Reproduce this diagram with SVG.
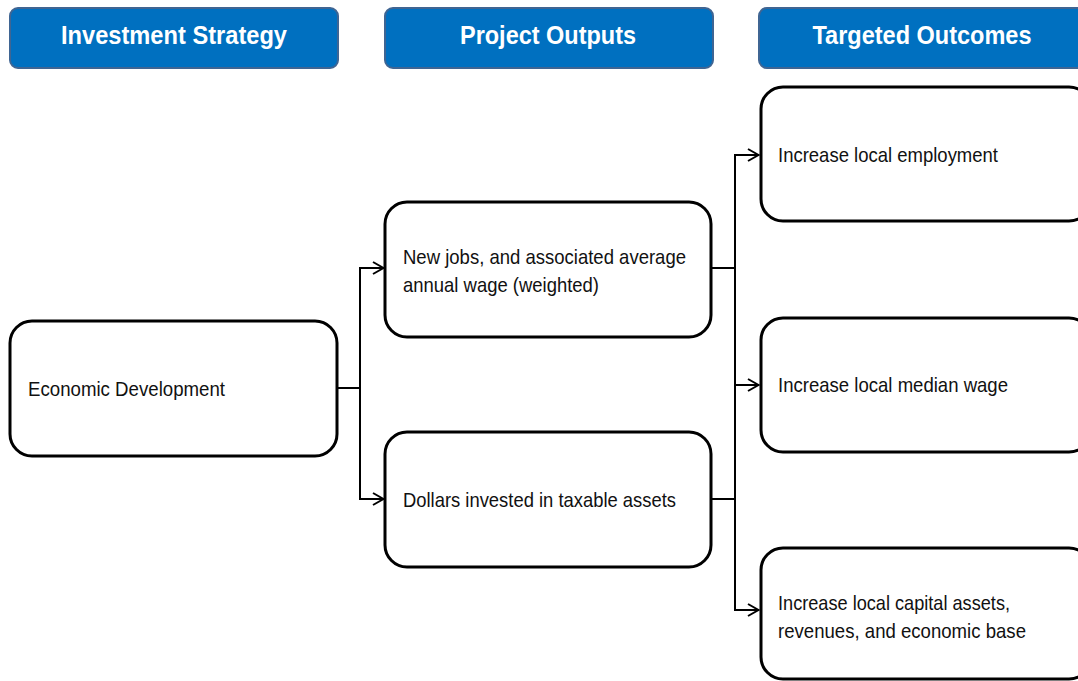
<svg xmlns="http://www.w3.org/2000/svg" width="1078" height="681" viewBox="0 0 1078 681">
<defs>
<style>
.hdr{fill:#0070C0;stroke:#3F6593;stroke-width:2}
.hdrt{font-family:"Liberation Sans Narrow","Liberation Sans",Arial,sans-serif;font-weight:bold;font-size:25px;fill:#fff;text-anchor:middle}
.box{fill:#fff;stroke:#000;stroke-width:3}
.t{font-family:"Liberation Sans Narrow","Liberation Sans",Arial,sans-serif;font-size:21px;fill:#111}
.c{fill:none;stroke:#000;stroke-width:2}
</style>
<marker id="arr" viewBox="0 0 13 14" refX="12" refY="7" markerWidth="13" markerHeight="14" markerUnits="userSpaceOnUse" orient="auto">
<path d="M1,1 L11.5,7 L1,13" fill="none" stroke="#000" stroke-width="2"/>
</marker>
</defs>
<rect width="1078" height="681" fill="#fff"/>
<g id="header-investment-strategy">
<rect class="hdr" x="10" y="8" width="328" height="60" rx="8"/>
<text class="hdrt" x="174" y="44" textLength="226" lengthAdjust="spacingAndGlyphs">Investment Strategy</text>
</g>
<g id="header-project-outputs">
<rect class="hdr" x="385" y="8" width="328" height="60" rx="8"/>
<text class="hdrt" x="548" y="44" textLength="176" lengthAdjust="spacingAndGlyphs">Project Outputs</text>
</g>
<g id="header-targeted-outcomes">
<rect class="hdr" x="759" y="8" width="328" height="60" rx="8"/>
<text class="hdrt" x="922" y="44" textLength="219" lengthAdjust="spacingAndGlyphs">Targeted Outcomes</text>
</g>
<g id="connectors">
<path class="c" d="M337,388 H360"/>
<path class="c" d="M360,388 V268 H384" marker-end="url(#arr)"/>
<path class="c" d="M360,388 V499 H384" marker-end="url(#arr)"/>
<path class="c" d="M711,268 H735"/>
<path class="c" d="M711,499 H735"/>
<path class="c" d="M735,268 V155 H759" marker-end="url(#arr)"/>
<path class="c" d="M735,268 V385 H759" marker-end="url(#arr)"/>
<path class="c" d="M735,385 V610 H759" marker-end="url(#arr)"/>
</g>
<g id="node-economic-development">
<rect class="box" x="10" y="321" width="327" height="135" rx="22"/>
<text class="t" x="28" y="396" textLength="197" lengthAdjust="spacingAndGlyphs">Economic Development</text>
</g>
<g id="node-new-jobs">
<rect class="box" x="385" y="202" width="326" height="135" rx="22"/>
<text class="t" x="403" y="264" textLength="283" lengthAdjust="spacingAndGlyphs">New jobs, and associated average</text>
<text class="t" x="403" y="292" textLength="196" lengthAdjust="spacingAndGlyphs">annual wage (weighted)</text>
</g>
<g id="node-dollars-invested">
<rect class="box" x="385" y="432" width="326" height="135" rx="22"/>
<text class="t" x="403" y="507" textLength="273" lengthAdjust="spacingAndGlyphs">Dollars invested in taxable assets</text>
</g>
<g id="node-increase-employment">
<rect class="box" x="761" y="87" width="330" height="134" rx="22"/>
<text class="t" x="778" y="162" textLength="220" lengthAdjust="spacingAndGlyphs">Increase local employment</text>
</g>
<g id="node-increase-median-wage">
<rect class="box" x="761" y="318" width="330" height="134" rx="22"/>
<text class="t" x="778" y="392" textLength="230" lengthAdjust="spacingAndGlyphs">Increase local median wage</text>
</g>
<g id="node-increase-capital-assets">
<rect class="box" x="761" y="548" width="330" height="131" rx="22"/>
<text class="t" x="778" y="610" textLength="232" lengthAdjust="spacingAndGlyphs">Increase local capital assets,</text>
<text class="t" x="778" y="638" textLength="248" lengthAdjust="spacingAndGlyphs">revenues, and economic base</text>
</g>
</svg>
